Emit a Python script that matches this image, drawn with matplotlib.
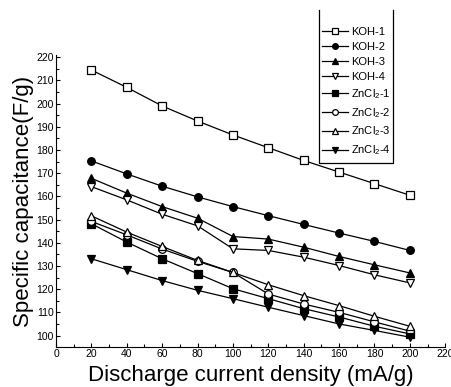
import numpy as np
import matplotlib
matplotlib.use('Agg')
import matplotlib.pyplot as plt
from matplotlib.ticker import MultipleLocator
from matplotlib.lines import Line2D

plt.rcParams['font.family'] = ['Liberation Sans', 'DejaVu Sans']
plt.rcParams['mathtext.fontset'] = 'custom'
plt.rcParams['mathtext.rm'] = 'Liberation Sans'
plt.rcParams['mathtext.it'] = 'Liberation Sans:italic'
plt.rcParams['mathtext.bf'] = 'Liberation Sans:bold'

# 放電電流密度 (mA/g)
current = [20, 40, 60, 80, 100, 120, 140, 160, 180, 200]

koh_1 = [214.5, 207.0, 199.0, 192.5, 186.5, 181.0, 175.5, 170.5, 165.5, 160.5]
koh_2 = [175.3, 169.7, 164.4, 159.8, 155.6, 151.7, 147.9, 144.2, 140.6, 136.7]
koh_3 = [167.8, 161.4, 155.6, 150.6, 142.7, 141.6, 138.1, 134.1, 130.5, 127.0]
koh_4 = [164.2, 158.5, 152.3, 147.3, 137.4, 136.7, 133.8, 130.2, 126.2, 122.7]
zncl2_1 = [148.2, 140.3, 133.1, 126.7, 120.2, 115.9, 111.6, 108.0, 104.0, 100.7]
zncl2_2 = [149.2, 143.4, 137.3, 132.0, 127.2, 117.9, 113.6, 110.0, 105.9, 101.9]
zncl2_3 = [151.6, 144.6, 138.4, 132.4, 127.2, 121.9, 117.2, 112.9, 108.3, 104.0]
zncl2_4 = [133.1, 128.4, 123.7, 119.5, 115.9, 112.2, 108.6, 105.0, 102.2, 99.3]

series = [
    ('KOH-1', koh_1, 's', 'white'),
    ('KOH-2', koh_2, 'o', 'black'),
    ('KOH-3', koh_3, '^', 'black'),
    ('KOH-4', koh_4, 'v', 'white'),
    ('ZnCl$_2$-1', zncl2_1, 's', 'black'),
    ('ZnCl$_2$-2', zncl2_2, 'o', 'white'),
    ('ZnCl$_2$-3', zncl2_3, '^', 'white'),
    ('ZnCl$_2$-4', zncl2_4, 'v', 'black'),
]

W, H = 452, 387
fig = plt.figure(figsize=(W / 100, H / 100), dpi=100)
ax = fig.add_axes([0.124, 0.103, 0.861, 0.755])

for name, vals, mk, face in series:
    ax.plot(current, vals, color='black', lw=0.9, marker=mk, markersize=5.5,
            markerfacecolor=face, markeredgecolor='black', markeredgewidth=0.9,
            label=name)

ax.set_xlim(0, 220)
ax.set_ylim(95, 221)
ax.xaxis.set_major_locator(MultipleLocator(20))
ax.xaxis.set_minor_locator(MultipleLocator(10))
ax.yaxis.set_major_locator(MultipleLocator(10))
ax.yaxis.set_minor_locator(MultipleLocator(5))
ax.tick_params(which='both', direction='in', labelsize=7.5, pad=1.5)
ax.tick_params(which='major', length=3, width=0.8)
ax.tick_params(which='minor', length=2, width=0.8)
ax.spines['top'].set_visible(False)
ax.spines['right'].set_visible(False)

ax.set_xlabel('Discharge current density (mA/g)', fontsize=16, labelpad=4)
ax.set_ylabel('Specific capacitance(F/g)', fontsize=16, labelpad=2)

# 圖例（無框），框只畫左、下、右三邊
leg = fig.legend(loc='upper left', bbox_to_anchor=(322 / W, 1 - 27 / H),
                 fontsize=8, frameon=False,
                 handlelength=2.3, handletextpad=0.3, labelspacing=0.45,
                 markerscale=0.75, borderaxespad=0, borderpad=0)
frame = Line2D([319 / W, 319 / W, 393 / W, 393 / W],
               [1 - 10 / H, 1 - 163 / H, 1 - 163 / H, 1 - 10 / H],
               transform=fig.transFigure, color='black', lw=0.9)
fig.add_artist(frame)

fig.savefig('out.png', dpi=100)
